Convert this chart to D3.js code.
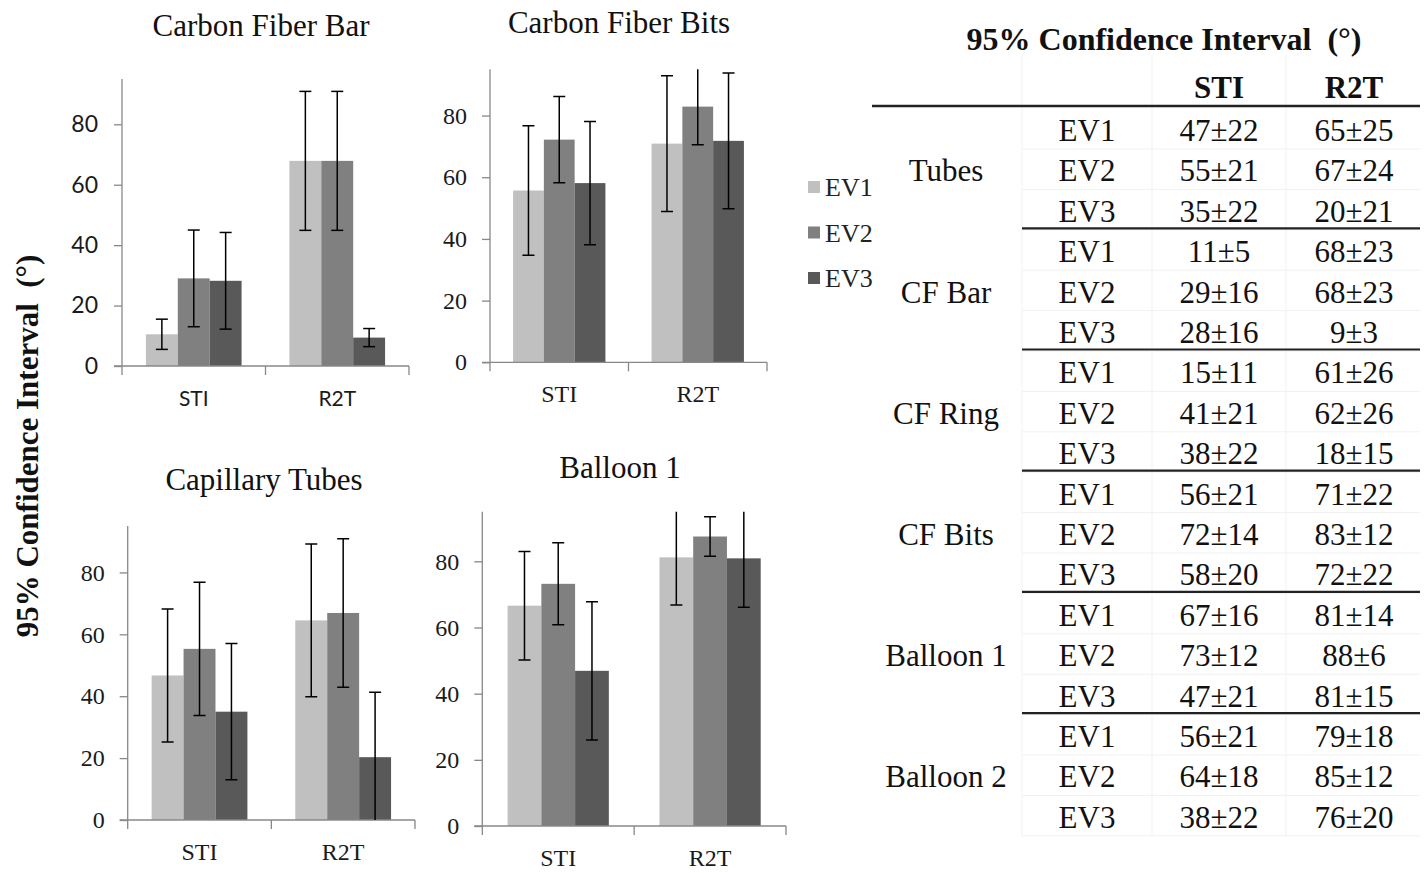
<!DOCTYPE html>
<html>
<head>
<meta charset="utf-8">
<script src="https://cdn.jsdelivr.net/npm/d3@7/dist/d3.min.js"></script>
<style>
  body { margin: 0; background: #fff; }
  svg { display: block; }
</style>
</head>
<body>
<svg id="chart" width="1428" height="873"></svg>
<script>
// ---- data ----
const categories = ["STI", "R2T"];
const series = ["EV1", "EV2", "EV3"];
const yTicks = [0, 20, 40, 60, 80];

const cfBarMean = [[10.5, 29.0, 28.2], [67.9, 67.9, 9.4]];
const cfBarErr  = [[5, 16, 16], [23, 23, 3]];
const cfBitsMean = [[55.7, 72.2, 58.1], [70.9, 82.9, 71.8]];
const cfBitsErr  = [[21, 14, 20], [22, 12.4, 22]];
const tubesMean = [[46.7, 55.3, 35.0], [64.5, 66.9, 20.3]];
const tubesErr  = [[21.5, 21.5, 22], [24.7, 24, 21]];
const balloonMean = [[66.6, 73.2, 46.9], [81.2, 87.5, 80.9]];
const balloonErr  = [[16.4, 12.4, 20.9], [14.4, 6, 14.8]];

const tableGroups = ["Tubes", "CF Bar", "CF Ring", "CF Bits", "Balloon 1", "Balloon 2"];
const tableSTI = ["47±22", "55±21", "35±22", "11±5", "29±16", "28±16", "15±11", "41±21", "38±22",
                  "56±21", "72±14", "58±20", "67±16", "73±12", "47±21", "56±21", "64±18", "38±22"];
const tableR2T = ["65±25", "67±24", "20±21", "68±23", "68±23", "9±3", "61±26", "62±26", "18±15",
                  "71±22", "83±12", "72±22", "81±14", "88±6", "81±15", "79±18", "85±12", "76±20"];

// ---- style ----
const colors = ["#c0c0c0", "#808080", "#595959"];
const serif = "'Liberation Serif', 'Times New Roman', serif";
const sans = "Lato, 'Open Sans', sans-serif";
const axisColor = "#888";

const svg = d3.select("#chart");

const charts = [
  {title: "Carbon Fiber Bar", mean: cfBarMean, err: cfBarErr, x0: 122, x1: 409, top: 79, base: 366,
   titleX: 261, titleY: 36, font: sans, fs: 21, tfs: 23, pad: 16},
  {title: "Carbon Fiber Bits", mean: cfBitsMean, err: cfBitsErr, x0: 490, x1: 767, top: 69.3, base: 362.3,
   titleX: 619, titleY: 33, font: serif, fs: 24, tfs: 24, pad: 15},
  {title: "Capillary Tubes", mean: tubesMean, err: tubesErr, x0: 127.7, x1: 415, top: 526, base: 820,
   titleX: 264, titleY: 490, font: serif, fs: 24, tfs: 24, pad: 15},
  {title: "Balloon 1", mean: balloonMean, err: balloonErr, x0: 482.3, x1: 786, top: 511.7, base: 826,
   titleX: 620, titleY: 478, font: serif, fs: 24, tfs: 24, pad: 15}
];

charts.forEach((c, ci) => {
  const g = svg.append("g");
  const y = d3.scaleLinear().domain([0, 95]).range([c.base, c.top]);
  const x = d3.scaleBand().domain(categories).range([c.x0, c.x1]);
  const xs = d3.scaleBand().domain(series).range([0, x.bandwidth()]).paddingInner(0).paddingOuter(0.75);

  g.append("clipPath").attr("id", "clip" + ci)
    .append("rect").attr("x", c.x0).attr("y", c.top).attr("width", c.x1 - c.x0).attr("height", c.base - c.top);

  // bars
  const rows = categories.map((cat, i) => series.map((s, j) => ({cat, s, j, v: c.mean[i][j], e: c.err[i][j]}))).flat();
  g.selectAll("rect.bar").data(rows).enter().append("rect")
    .attr("class", "bar")
    .attr("x", d => x(d.cat) + xs(d.s))
    .attr("width", xs.bandwidth())
    .attr("y", d => y(d.v))
    .attr("height", d => y(0) - y(d.v))
    .attr("fill", d => colors[d.j]);

  // y axis
  const ya = g.append("g").attr("transform", `translate(${c.x0},0)`)
    .call(d3.axisLeft(y).tickValues(yTicks).tickSize(8).tickSizeOuter(0).tickPadding(c.pad));
  ya.select(".domain").remove();
  ya.selectAll("line").attr("stroke", axisColor).attr("stroke-width", 1.3);
  ya.selectAll("text").attr("font-family", c.font).attr("font-size", c.tfs).attr("fill", "#1a1a1a");
  g.append("line").attr("x1", c.x0).attr("x2", c.x0).attr("y1", c.top).attr("y2", c.base + 9)
    .attr("stroke", axisColor).attr("stroke-width", 1.3);

  // x axis
  const xa = g.append("g").attr("transform", `translate(0,${c.base})`)
    .call(d3.axisBottom(x).tickSize(0).tickPadding(40 - c.fs * 0.71));
  xa.select(".domain").remove();
  xa.selectAll("text").attr("font-family", c.font).attr("font-size", c.fs).attr("fill", "#1a1a1a");
  g.append("line").attr("x1", c.x0 - 8).attr("x2", c.x1).attr("y1", c.base).attr("y2", c.base)
    .attr("stroke", axisColor).attr("stroke-width", 1.3);
  const bounds = categories.map(cat => x(cat)).concat([c.x1]).slice(1);
  g.selectAll("line.ctick").data(bounds).enter().append("line")
    .attr("x1", d => d).attr("x2", d => d).attr("y1", c.base).attr("y2", c.base + 9)
    .attr("stroke", axisColor).attr("stroke-width", 1.3);

  // error bars
  const eb = g.append("g").attr("clip-path", `url(#clip${ci})`)
    .attr("stroke", "#000").attr("stroke-width", 1.5);
  const cx = d => x(d.cat) + xs(d.s) + xs.bandwidth() / 2;
  eb.selectAll("line.v").data(rows).enter().append("line")
    .attr("x1", cx).attr("x2", cx).attr("y1", d => y(d.v + d.e)).attr("y2", d => y(d.v - d.e));
  eb.selectAll("line.hi").data(rows).enter().append("line")
    .attr("x1", d => cx(d) - 6).attr("x2", d => cx(d) + 6).attr("y1", d => y(d.v + d.e)).attr("y2", d => y(d.v + d.e));
  eb.selectAll("line.lo").data(rows).enter().append("line")
    .attr("x1", d => cx(d) - 6).attr("x2", d => cx(d) + 6).attr("y1", d => y(d.v - d.e)).attr("y2", d => y(d.v - d.e));

  // title
  svg.append("text").attr("x", c.titleX).attr("y", c.titleY).attr("text-anchor", "middle")
    .attr("font-family", serif).attr("font-size", 31).attr("fill", "#111").text(c.title);
});

// legend
const legend = svg.append("g");
const legendY = d3.scalePoint().domain(series).range([187, 278]);
series.forEach((s, i) => {
  legend.append("rect").attr("x", 808).attr("y", legendY(s) - 6).attr("width", 12).attr("height", 12).attr("fill", colors[i]);
  legend.append("text").attr("x", 825).attr("y", legendY(s) + 9).attr("font-family", serif)
    .attr("font-size", 26).attr("fill", "#222").text(s);
});

// y-axis label
svg.append("text").attr("transform", "translate(38,446) rotate(-90)").attr("text-anchor", "middle")
  .attr("font-family", serif).attr("font-weight", "bold").attr("font-size", 31).attr("fill", "#111")
  .text("95% Confidence Interval\u00a0\u00a0(°)");

// ---- table ----
const t = svg.append("g").attr("font-family", serif).attr("fill", "#111");
const rowY = d3.scaleLinear().domain([0, 17]).range([141, 827.8]);
const colX = {group: 946, ev: 1087, sti: 1219, r2t: 1354};

// faint cell grid
const faint = t.append("g").attr("stroke", "#f1f1f1").attr("stroke-width", 1);
[1022, 1152, 1286].forEach(xv => faint.append("line").attr("x1", xv).attr("x2", xv).attr("y1", 55).attr("y2", 836));
d3.range(18).forEach(i => faint.append("line").attr("x1", 1022).attr("x2", 1420)
  .attr("y1", rowY(i) + 8).attr("y2", rowY(i) + 8));

t.append("text").attr("x", 1164).attr("y", 50).attr("text-anchor", "middle")
  .attr("font-weight", "bold").attr("font-size", 32).text("95% Confidence Interval\u00a0\u00a0(°)");
t.append("text").attr("x", colX.sti).attr("y", 98).attr("text-anchor", "middle")
  .attr("font-weight", "bold").attr("font-size", 31).text("STI");
t.append("text").attr("x", colX.r2t).attr("y", 98).attr("text-anchor", "middle")
  .attr("font-weight", "bold").attr("font-size", 31).text("R2T");
t.append("line").attr("x1", 872).attr("x2", 1420).attr("y1", 106).attr("y2", 106)
  .attr("stroke", "#222").attr("stroke-width", 2.5);

tableGroups.forEach((grp, gi) => {
  t.append("text").attr("x", colX.group).attr("y", rowY(gi * 3 + 1)).attr("text-anchor", "middle")
    .attr("font-size", 31).text(grp);
  if (gi < tableGroups.length - 1) {
    t.append("line").attr("x1", 1022).attr("x2", 1420)
      .attr("y1", rowY(gi * 3 + 2) + 6.5).attr("y2", rowY(gi * 3 + 2) + 6.5)
      .attr("stroke", "#222").attr("stroke-width", 2.2);
  }
});
d3.range(18).forEach(i => {
  t.append("text").attr("x", colX.ev).attr("y", rowY(i)).attr("text-anchor", "middle").attr("font-size", 31).text(series[i % 3]);
  t.append("text").attr("x", colX.sti).attr("y", rowY(i)).attr("text-anchor", "middle").attr("font-size", 31).text(tableSTI[i]);
  t.append("text").attr("x", colX.r2t).attr("y", rowY(i)).attr("text-anchor", "middle").attr("font-size", 31).text(tableR2T[i]);
});
</script>
</body>
</html>
